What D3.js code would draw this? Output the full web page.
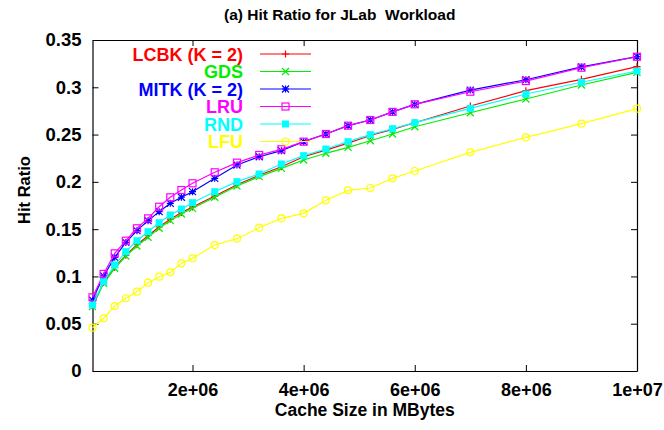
<!DOCTYPE html>
<html><head><meta charset="utf-8">
<script src="https://cdn.jsdelivr.net/npm/d3@7"></script>
<style>
body{margin:0;background:#fff;}
svg{display:block;font-family:"Liberation Sans",Arial,Helvetica,sans-serif;font-weight:bold;}
</style></head>
<body><svg id="c" width="664" height="430"></svg>
<script>
const cacheSizes = [2e5,4e5,6e5,8e5,1e6,1.2e6,1.4e6,1.6e6,1.8e6,2e6,2.4e6,2.8e6,3.2e6,3.6e6,4e6,4.4e6,4.8e6,5.2e6,5.6e6,6e6,7e6,8e6,9e6,1e7];
const seriesNames = ["LCBK (K = 2)","GDS","MITK (K = 2)","LRU","RND","LFU"];
const lcbk = [0.069,0.0935,0.1095,0.1225,0.1335,0.143,0.1525,0.1605,0.1675,0.1735,0.185,0.197,0.207,0.216,0.2265,0.2335,0.241,0.249,0.2555,0.2625,0.2802,0.2964,0.3084,0.3218];
const gds  = [0.068,0.0927,0.1086,0.1216,0.1322,0.1414,0.1509,0.159,0.166,0.172,0.1837,0.1956,0.2055,0.2143,0.2231,0.2302,0.2365,0.2435,0.2506,0.2583,0.2731,0.2876,0.3024,0.3158];
const mitk = [0.075,0.1005,0.1202,0.136,0.1484,0.159,0.1685,0.1773,0.1837,0.1896,0.2037,0.2178,0.2266,0.233,0.2425,0.2506,0.2594,0.2654,0.274,0.282,0.297,0.308,0.3215,0.3325];
const lru  = [0.0779,0.1026,0.1244,0.1378,0.1509,0.1614,0.1737,0.1837,0.1914,0.1985,0.2101,0.2203,0.2284,0.2344,0.2425,0.2506,0.2594,0.2654,0.274,0.282,0.2953,0.3066,0.3207,0.3323];
const rnd  = [0.0698,0.0944,0.1121,0.1262,0.1378,0.1473,0.1568,0.165,0.1713,0.178,0.1896,0.2002,0.2083,0.2189,0.2277,0.2347,0.2425,0.2499,0.2562,0.2626,0.2777,0.2929,0.3053,0.3172];
const lfu  = [0.0458,0.0557,0.0687,0.0769,0.0839,0.0934,0.0997,0.1043,0.1139,0.1191,0.1332,0.1399,0.1515,0.1614,0.1667,0.1805,0.191,0.1935,0.2037,0.2115,0.2312,0.2471,0.2615,0.2774];
const xTickValues = [2e6,4e6,6e6,8e6,1e7];
const xTickLabels = ["2e+06","4e+06","6e+06","8e+06","1e+07"];
const yTickValues = [0,0.05,0.1,0.15,0.2,0.25,0.3,0.35];
const yTickLabels = ["0","0.05","0.1","0.15","0.2","0.25","0.3","0.35"];

const allSeries = [lcbk,gds,mitk,lru,rnd,lfu];
const colors = ["#ff0000","#00ee00","#0000ff","#ff00ff","#00ffff","#ffff00"];
const markers = ["plus","cross","star","square","fsquare","circle"];

const svg = d3.select("#c");
const L=92.5,R=637,T=40,B=371;
const x = d3.scaleLinear().domain([2e5,1e7]).range([L,R]);
const y = d3.scaleLinear().domain([0,0.35]).range([B,T]);

// title
svg.append("text").attr("x",224).attr("y",20).attr("font-size",15.5).attr("fill","#000")
  .style("white-space","pre").text("(a) Hit Ratio for JLab  Workload");

function styleAxis(g,fs){g.selectAll("path").attr("stroke","#000").attr("stroke-width",1.2);
  g.selectAll("line").attr("stroke","#000").attr("stroke-width",1);
  g.selectAll("text").attr("font-size",fs).attr("fill","#000").attr("font-family","Liberation Sans, Arial, sans-serif").attr("font-weight","bold");}
const xb = svg.append("g").attr("transform",`translate(0,${B})`)
  .call(d3.axisBottom(x).tickValues(xTickValues).tickFormat((d,i)=>xTickLabels[i]).tickSizeInner(-6).tickSizeOuter(0).tickPadding(12));
styleAxis(xb,18);
const xt = svg.append("g").attr("transform",`translate(0,${T})`)
  .call(d3.axisTop(x).tickValues(xTickValues).tickFormat("").tickSizeInner(-6).tickSizeOuter(0));
styleAxis(xt,18);
const yl = svg.append("g").attr("transform",`translate(${L},0)`)
  .call(d3.axisLeft(y).tickValues(yTickValues).tickFormat((d,i)=>yTickLabels[i]).tickSizeInner(-6).tickSizeOuter(0).tickPadding(11));
styleAxis(yl,18.5);
const yr = svg.append("g").attr("transform",`translate(${R},0)`)
  .call(d3.axisRight(y).tickValues(yTickValues).tickFormat("").tickSizeInner(-6).tickSizeOuter(0));
styleAxis(yr,18);

svg.append("text").attr("x",(L+R)/2).attr("y",416).attr("text-anchor","middle").attr("font-size",17.5).text("Cache Size in MBytes");
svg.append("text").attr("transform",`translate(30,190) rotate(-90)`).attr("text-anchor","middle").attr("font-size",16.5).text("Hit Ratio");

function drawMarker(g,type,cx,cy,col){
  const s=3.5;
  if(type==="plus"){
    g.append("path").attr("d",`M${cx-s},${cy}H${cx+s}M${cx},${cy-s}V${cy+s}`).attr("stroke",col).attr("stroke-width",1.2).attr("fill","none");
  } else if(type==="cross"){
    g.append("path").attr("d",`M${cx-s},${cy-s}L${cx+s},${cy+s}M${cx-s},${cy+s}L${cx+s},${cy-s}`).attr("stroke",col).attr("stroke-width",1.2).attr("fill","none");
  } else if(type==="star"){
    g.append("path").attr("d",`M${cx-s},${cy}H${cx+s}M${cx},${cy-s}V${cy+s}M${cx-s},${cy-s}L${cx+s},${cy+s}M${cx-s},${cy+s}L${cx+s},${cy-s}`).attr("stroke",col).attr("stroke-width",1.2).attr("fill","none");
  } else if(type==="square"){
    g.append("rect").attr("x",cx-s).attr("y",cy-s).attr("width",2*s).attr("height",2*s).attr("stroke",col).attr("stroke-width",1.2).attr("fill","none");
  } else if(type==="fsquare"){
    g.append("rect").attr("x",cx-s).attr("y",cy-s).attr("width",2*s).attr("height",2*s).attr("fill",col);
  } else {
    g.append("circle").attr("cx",cx).attr("cy",cy).attr("r",s).attr("stroke",col).attr("stroke-width",1.2).attr("fill","none");
  }
}

const line = d3.line().x(d=>x(d[0])).y(d=>y(d[1]));
const legX1=260, legX2=311, legY0=54, legDy=17.5;
allSeries.forEach((vals,i)=>{
  const g = svg.append("g");
  const pts = cacheSizes.map((c,j)=>[c,vals[j]]);
  const ly = legY0 + i*legDy;
  g.append("text").attr("x",243).attr("y",ly+6.5).attr("text-anchor","end").attr("font-size",18).attr("fill",colors[i]).text(seriesNames[i]);
  g.append("line").attr("x1",legX1).attr("x2",legX2).attr("y1",ly).attr("y2",ly).attr("stroke",colors[i]).attr("stroke-width",1.2);
  drawMarker(g,markers[i],(legX1+legX2)/2,ly,colors[i]);
  g.append("path").datum(pts).attr("d",line).attr("fill","none").attr("stroke",colors[i]).attr("stroke-width",1.2);
  pts.forEach(p=>drawMarker(g,markers[i],x(p[0]),y(p[1]),colors[i]));
});
</script></body></html>
